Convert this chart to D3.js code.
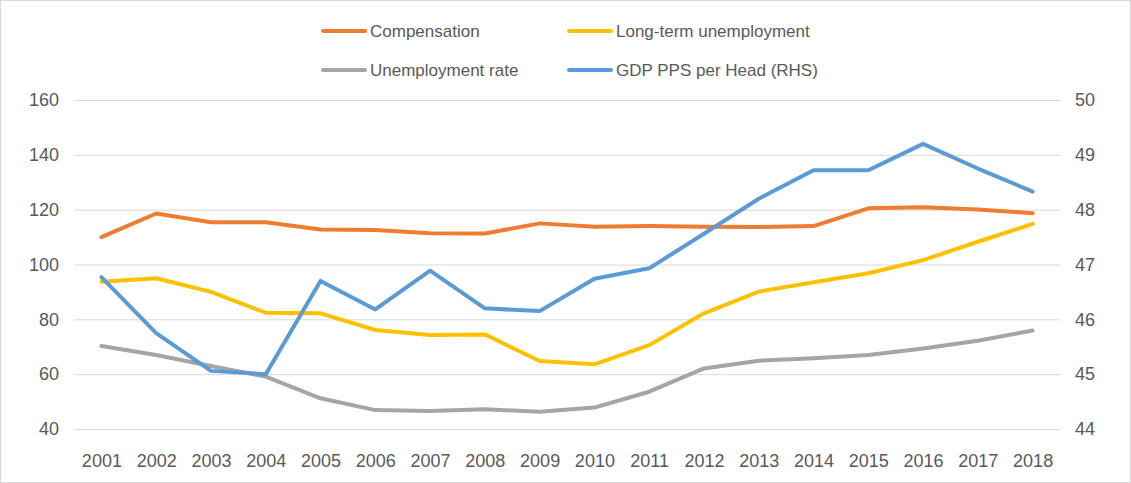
<!DOCTYPE html>
<html><head><meta charset="utf-8">
<script src="https://cdn.jsdelivr.net/npm/d3@7"></script>
<style>body{margin:0;background:#fff;} text{font-family:"Liberation Sans",Arial,sans-serif;fill:#595959;}</style>
</head><body>
<svg id="c" width="1131" height="483"></svg>
<script>
const years = ["2001","2002","2003","2004","2005","2006","2007","2008","2009","2010","2011","2012","2013","2014","2015","2016","2017","2018"];
const compensation = [110,118.6,115.4,115.4,112.8,112.6,111.4,111.3,115,113.8,114,113.8,113.7,114,120.5,120.9,120.1,118.7];
const longTermUnemployment = [93.7,95,90,82.4,82.2,76.1,74.3,74.5,64.8,63.6,70.6,82.2,90.1,93.5,96.8,101.6,108.3,114.8];
const unemploymentRate = [70.3,67,63,59.1,51.2,46.9,46.6,47.2,46.3,47.8,53.6,62.1,64.9,65.8,67,69.4,72.2,75.9];
const gdpPerHead = [46.77,45.75,45.06,45.0,46.7,46.18,46.89,46.2,46.15,46.74,46.93,47.56,48.2,48.72,48.72,49.2,48.75,48.33];
const leftTicks = [40,60,80,100,120,140,160];
const rightTicks = [44,45,46,47,48,49,50];

const svg = d3.select("#c");
svg.append("rect").attr("x",0.5).attr("y",0.5).attr("width",1130).attr("height",482)
  .attr("fill","#fff").attr("stroke","#d9d9d9");

const L = 74, R = 1060, T = 100, B = 429;
const x = d3.scalePoint().domain(years).range([L, R]).padding(0.5);
const yL = d3.scaleLinear().domain([40,160]).range([B, T]);
const yR = d3.scaleLinear().domain([44,50]).range([B, T]);

// gridlines
svg.append("g").selectAll("line").data(leftTicks).join("line")
  .attr("x1",L).attr("x2",R).attr("y1",d=>yL(d)+0.5).attr("y2",d=>yL(d)+0.5)
  .attr("stroke","#d9d9d9").attr("stroke-width",1);

// left axis
const gl = svg.append("g").attr("transform",`translate(${L},0)`)
  .call(d3.axisLeft(yL).tickValues(leftTicks).tickFormat(d3.format("d")).tickSize(0).tickPadding(15));
gl.select(".domain").remove();
gl.selectAll("text").style("font-size","18px").attr("fill","#595959");

// right axis
const gr = svg.append("g").attr("transform",`translate(${R},0)`)
  .call(d3.axisRight(yR).tickValues(rightTicks).tickFormat(d3.format("d")).tickSize(0).tickPadding(15));
gr.select(".domain").remove();
gr.selectAll("text").style("font-size","18px").attr("fill","#595959");

// bottom axis
const gb = svg.append("g").attr("transform",`translate(0,${B})`)
  .call(d3.axisBottom(x).tickSize(0).tickPadding(25));
gb.select(".domain").remove();
gb.selectAll("text").style("font-size","18px").attr("fill","#595959");

const series = [
  {name:"Compensation", data:compensation, color:"#ED7D31", scale:yL},
  {name:"Long-term unemployment", data:longTermUnemployment, color:"#FFC000", scale:yL},
  {name:"Unemployment rate", data:unemploymentRate, color:"#A5A5A5", scale:yL},
  {name:"GDP PPS per Head (RHS)", data:gdpPerHead, color:"#5B9BD5", scale:yR}
];
const drawOrder = [2,1,0,3];
drawOrder.forEach(i=>{
  const s = series[i];
  const line = d3.line().x((d,j)=>x(years[j])).y(d=>s.scale(d));
  svg.append("path").datum(s.data).attr("d",line).attr("fill","none")
    .attr("stroke",s.color).attr("stroke-width",4).attr("stroke-linejoin","round").attr("stroke-linecap","round");
});

// legend
const legPos = [[323,31],[569,31],[323,70],[569,70]];
series.forEach((s,i)=>{
  const [lx,ly] = legPos[i];
  const g = svg.append("g").attr("transform",`translate(${lx},${ly})`);
  g.append("line").attr("x1",0).attr("x2",42).attr("y1",0).attr("y2",0)
    .attr("stroke",s.color).attr("stroke-width",4).attr("stroke-linecap","round");
  g.append("text").attr("x",47).attr("y",0).attr("dy","0.35em")
    .style("font-size","17px").text(s.name);
});
</script>
</body></html>
